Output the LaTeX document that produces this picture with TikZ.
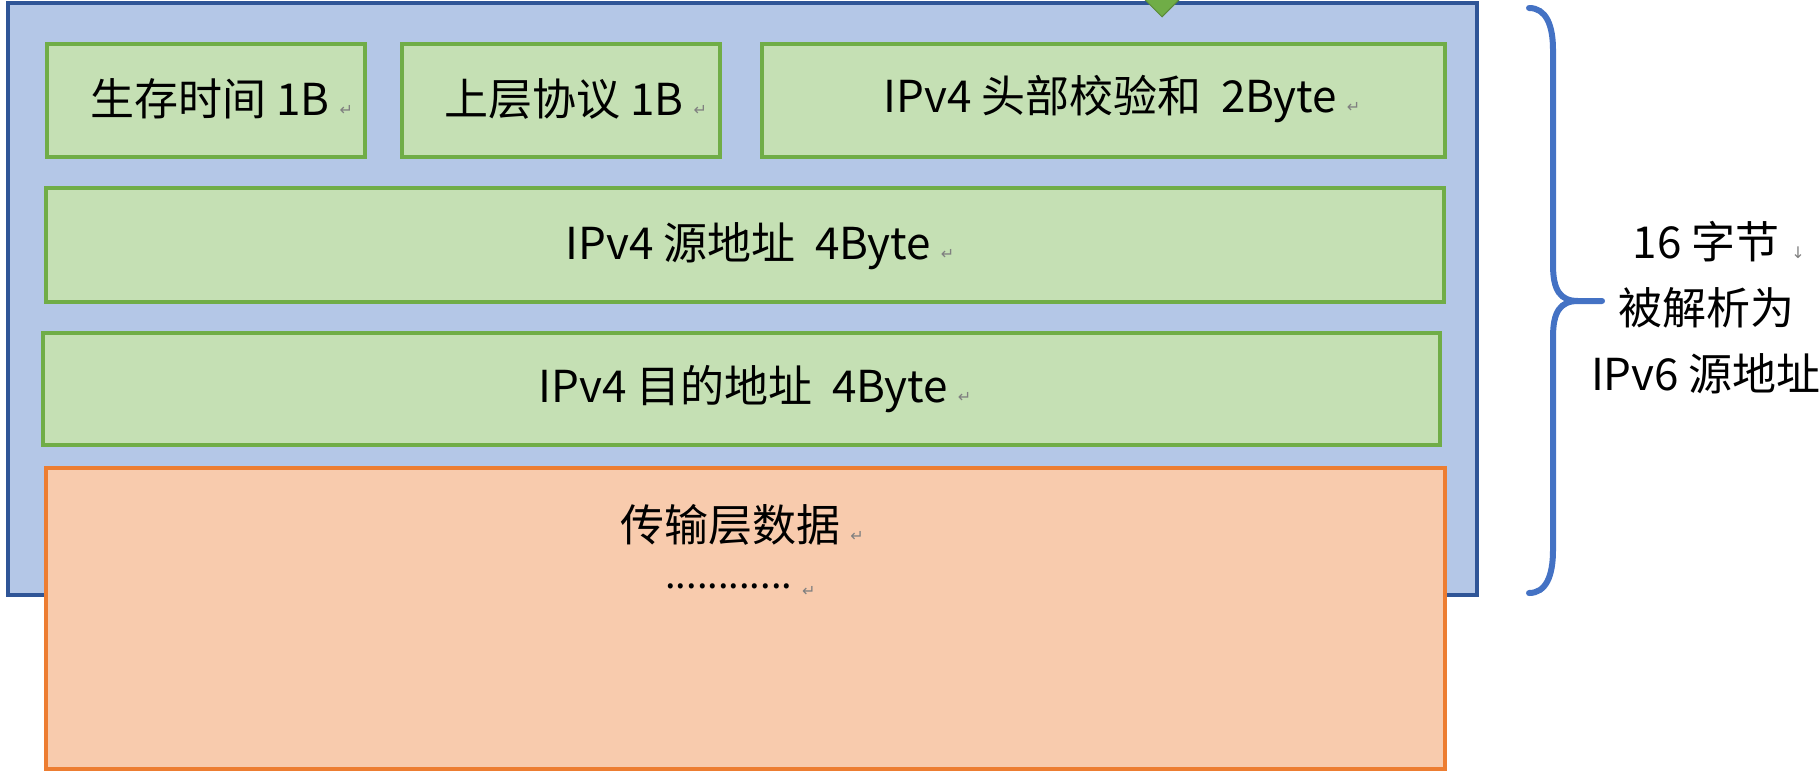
\documentclass[tikz,border=0pt]{standalone}
\usepackage{fontspec}
\setmainfont{Noto Sans CJK SC}
\newfontfamily\markfont{DejaVu Sans}
\usetikzlibrary{shapes.geometric}
\definecolor{hdrblue}{HTML}{B4C7E7}
\definecolor{hdrblueline}{HTML}{2F5597}
\definecolor{fieldgreen}{HTML}{C5E0B4}
\definecolor{fieldgreenline}{HTML}{70AD47}
\definecolor{dataorange}{HTML}{F8CBAD}
\definecolor{dataorangeline}{HTML}{ED7D31}
\definecolor{braceblue}{HTML}{4472C4}
\newcommand{\pmark}{\hspace{5pt}{\markfont\fontsize{8}{8}\selectfont\color{gray}↵}}
\newcommand{\lmark}{{\markfont\fontsize{8}{8}\selectfont\color{gray}↓}}

\begin{document}
\begin{tikzpicture}[x=0.5pt, y=-0.5pt,
    every node/.style={font=\fontsize{22}{33}\selectfont},
    header/.style={draw=hdrblueline, fill=hdrblue, line width=2pt, inner sep=0pt},
    field/.style={draw=fieldgreenline, fill=fieldgreen, line width=2.2pt, inner sep=0pt},
    payload/.style={draw=dataorangeline, fill=dataorange, line width=2pt, inner sep=0pt},
    txt/.style={anchor=west, inner sep=0pt}]
    \useasboundingbox (0,0) rectangle (1819,771);
    \clip (0,0) rectangle (1819,771);
    % header and its fields
    \node (hdr) [header, minimum width=734.5pt, minimum height=296pt] at (742.5,299) {};
    \node (ttl) [field, minimum width=159pt, minimum height=56.5pt] at (206,100.5) {};
    \node (proto) [field, minimum width=159pt, minimum height=56.5pt] at (561,100.5) {};
    \node (chk) [field, minimum width=341.5pt, minimum height=56.5pt] at (1103.5,100.5) {};
    \node (src) [field, minimum width=699pt, minimum height=57pt] at (745,245) {};
    \node (dst) [field, minimum width=698.5pt, minimum height=56pt] at (741.5,389) {};
    \node (data) [payload, minimum width=699.5pt, minimum height=150.5pt] at (745.5,618.5) {};
    \node (tip) [diamond, fill=fieldgreenline, draw=fieldgreenline!80!black, line width=0.5pt, inner sep=0pt, minimum size=17pt] at (1162,0) {};
    \node (ttltext) [txt] at (90,99) {生存时间 1B\pmark};
    \node (prototext) [txt] at (444,99) {上层协议 1B\pmark};
    \node (chktext) [txt] at (883,99) {IPv4 头部校验和\ \ 2Byte\pmark};
    \node (srctext) [txt] at (565,246) {IPv4 源地址\ \ 4Byte\pmark};
    \node (dsttext) [txt] at (538,389) {IPv4 目的地址\ \ 4Byte\pmark};
    \node (datatext) [txt] at (620,525) {传输层数据\pmark};
    \node (dots) [txt, font=\fontsize{19}{24}\selectfont] at (665,590) {............\raisebox{-4pt}{\pmark}};
    % brace
    \draw[braceblue, line width=3pt, line cap=round]
      (1529,8) .. controls (1546,8) and (1553,25) .. (1553,50) -- (1553,265)
      .. controls (1553,290) and (1560,301) .. (1578,301) -- (1602,301)
      (1578,301) .. controls (1560,301) and (1553,312) .. (1553,337) -- (1553,550)
      .. controls (1553,576) and (1546,593) .. (1529,593);
    \node (lbl) [align=center] at (1706,308) {16 字节\rlap{\hspace{6pt}\lmark}\\被解析为\\IPv6 源地址};
\end{tikzpicture}
\end{document}
